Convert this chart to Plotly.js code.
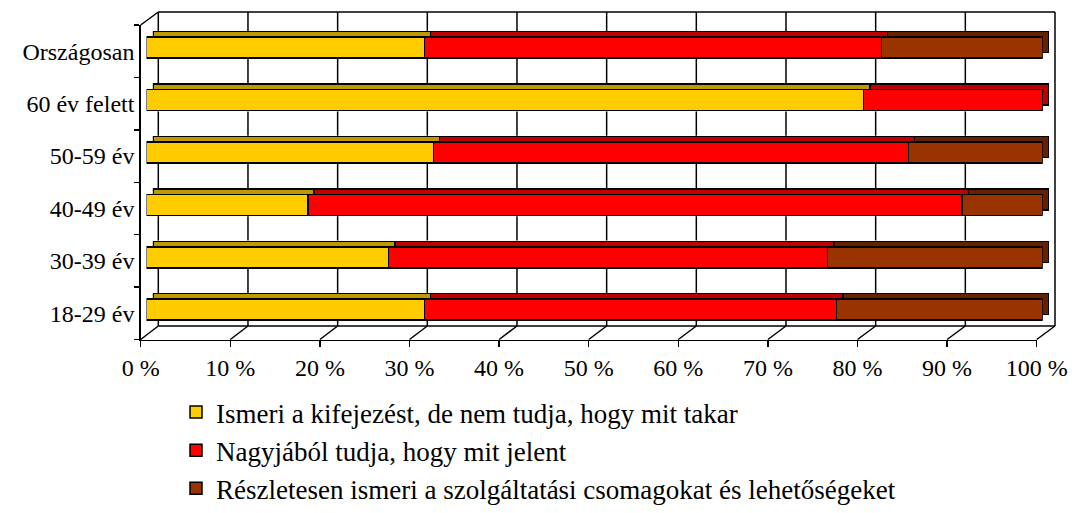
<!DOCTYPE html>
<html>
<head>
<meta charset="utf-8">
<script src="https://cdn.plot.ly/plotly-3.0.1.min.js"></script>
<style>html,body{margin:0;padding:0;background:#fff;}#chart{width:1072px;height:513px;}</style>
</head>
<body>
<div id="chart"></div>
<script>
const categories = ['18-29 év', '30-39 év', '40-49 év', '50-59 év', '60 év felett', 'Országosan'];
const seriesNames = [
  'Ismeri a kifejezést, de nem tudja, hogy mit takar',
  'Nagyjából tudja, hogy mit jelent',
  'Részletesen ismeri a szolgáltatási csomagokat és lehetőségeket'
];
const ismeri = [31, 27, 18, 32, 80, 31];
const nagyjabol = [46, 49, 73, 53, 20, 51];
const reszletesen = [23, 24, 9, 15, 0, 18];
const tickValues = [0, 10, 20, 30, 40, 50, 60, 70, 80, 90, 100];
const tickLabels = ['0 %', '10 %', '20 %', '30 %', '40 %', '50 %', '60 %', '70 %', '80 %', '90 %', '100 %'];

const frontColors = ['#FFCC00', '#FF0000', '#993300'];
const depthColors = ['#BF9900', '#BF0000', '#662200'];
const values = [ismeri, nagyjabol, reszletesen];

const W = 1072, H = 513;
const FONT = "'Liberation Serif', 'DejaVu Serif', 'Times New Roman', serif";
function xd(a, b) { return [a / W, b / W]; }
function yd(top, bot) { return [1 - bot / H, 1 - top / H]; }
function px(x) { return x / W; }
function py(y) { return 1 - y / H; }

// 3D frame geometry (pixels)
const FX0 = 140.7, FX1 = 1036.7;      // front plane 0 % .. 100 %
const BX0 = 158.3, BX1 = 1055;        // back wall 0 % .. 100 %
const FY = 339.5, BY = 326;           // front / back floor
const FTOP = 25, BTOP = 12;           // front / back top
const BAR_TOP = 21.5, BAR_BOT = 335.9, BAR_W = 0.4, DEPTH_DX = 6.3, DEPTH_DY = 5.5;

const traces = [];
// depth faces of the 3D bars
values.forEach((v, i) => {
  traces.push({ type: 'bar', orientation: 'h', y: categories, x: v, xaxis: 'x2', yaxis: 'y2', width: BAR_W,
    marker: { color: depthColors[i], line: { color: '#000', width: 1.5 } }, showlegend: false, hoverinfo: 'skip' });
});
// front faces
values.forEach((v, i) => {
  traces.push({ type: 'bar', orientation: 'h', y: categories, x: v, name: seriesNames[i],
    xaxis: 'x3', yaxis: 'y3', width: BAR_W, legendgroup: 'g' + i,
    marker: { color: frontColors[i], line: { color: '#000', width: 1.5 } } });
});
// invisible trace that activates the front-axis subplot
traces.push({ type: 'scatter', x: [0], y: [categories[0]], xaxis: 'x4', yaxis: 'y4', mode: 'markers',
  marker: { opacity: 0 }, showlegend: false, hoverinfo: 'skip' });

const catAxisHidden = { type: 'category', categoryarray: categories, range: [-0.5, 5.5], visible: false, fixedrange: true };

const LINE = { color: '#000', width: 1.5 };
const shapes = [];
// back-wall gridlines: visible only in the gaps between the bar rows
const band = (BAR_BOT - BAR_TOP) / categories.length;
const gaps = [];
let prevBottom = BTOP;
for (let i = categories.length - 1; i >= 0; i--) {
  const c = BAR_BOT - (i + 0.5) * band;
  const rowTop = c - BAR_W / 2 * band - DEPTH_DY - 0.8;
  const rowBottom = c + BAR_W / 2 * band + 0.8;
  gaps.push([prevBottom, rowTop]);
  prevBottom = rowBottom;
}
gaps.push([prevBottom, BY]);
tickValues.forEach(v => {
  const bx = BX0 + (BX1 - BX0) * v / 100;
  if (v === 100) {
    shapes.push({ type: 'line', xref: 'paper', yref: 'paper', x0: px(bx), x1: px(bx), y0: py(BTOP), y1: py(BY), line: LINE });
  } else {
    gaps.forEach(g => {
      shapes.push({ type: 'line', xref: 'paper', yref: 'paper', x0: px(bx), x1: px(bx), y0: py(g[0]), y1: py(g[1]), line: LINE });
    });
  }
  // floor diagonals
  const fx = FX0 + (FX1 - FX0) * v / 100;
  shapes.push({ type: 'line', xref: 'paper', yref: 'paper', x0: px(fx), x1: px(bx), y0: py(FY), y1: py(BY), line: LINE });
});
// back-wall top and floor edges, left-wall top diagonal
shapes.push({ type: 'line', xref: 'paper', yref: 'paper', x0: px(BX0), x1: px(BX1), y0: py(BTOP), y1: py(BTOP), line: LINE });
shapes.push({ type: 'line', xref: 'paper', yref: 'paper', x0: px(BX0), x1: px(BX1), y0: py(BY), y1: py(BY), line: LINE });
shapes.push({ type: 'line', xref: 'paper', yref: 'paper', x0: px(FX0), x1: px(BX0), y0: py(FTOP), y1: py(BTOP), line: LINE });

const layout = {
  width: W, height: H,
  margin: { l: 0, r: 0, t: 0, b: 0 },
  paper_bgcolor: '#fff', plot_bgcolor: 'rgba(0,0,0,0)',
  barmode: 'stack', bargap: 0,
  font: { family: FONT, size: 24, color: '#000' },
  // depth faces
  xaxis2: { domain: xd(146.5 + DEPTH_DX, 1042.7 + DEPTH_DX), range: [0, 100], visible: false, anchor: 'y2', fixedrange: true },
  yaxis2: Object.assign({ domain: yd(BAR_TOP - DEPTH_DY, BAR_BOT - DEPTH_DY), anchor: 'x2' }, catAxisHidden),
  // front faces
  xaxis3: { domain: xd(146.5, 1042.7), range: [0, 100], visible: false, anchor: 'y3', fixedrange: true },
  yaxis3: Object.assign({ domain: yd(BAR_TOP, BAR_BOT), anchor: 'x3' }, catAxisHidden),
  // front axes
  xaxis4: { domain: xd(FX0, FX1), range: [0, 100], tickvals: tickValues, ticktext: tickLabels,
    showgrid: false, zeroline: false, showline: true, linecolor: '#000', linewidth: 1.5,
    ticks: 'outside', ticklen: 6, tickwidth: 1.5, tickcolor: '#000', anchor: 'y4',
    tickfont: { family: FONT, size: 24, color: '#000' }, fixedrange: true },
  yaxis4: { domain: yd(FTOP, FY), type: 'category', categoryarray: categories, range: [-0.5, 5.5],
    tickson: 'boundaries', ticks: 'outside', ticklen: 5, tickwidth: 1.5, tickcolor: '#000',
    showgrid: false, zeroline: false, showline: true, linecolor: '#000', linewidth: 1.5, anchor: 'x4',
    tickfont: { family: FONT, size: 24, color: '#000' }, fixedrange: true },
  shapes: shapes,
  showlegend: true,
  legend: { x: 176 / W, xanchor: 'left', y: 0, yanchor: 'bottom', traceorder: 'grouped',
    tracegroupgap: 0, bgcolor: 'rgba(0,0,0,0)', borderwidth: 0,
    font: { family: FONT, size: 27, color: '#000' } }
};

Plotly.newPlot('chart', traces, layout, { displayModeBar: false, staticPlot: true });
</script>
</body>
</html>
